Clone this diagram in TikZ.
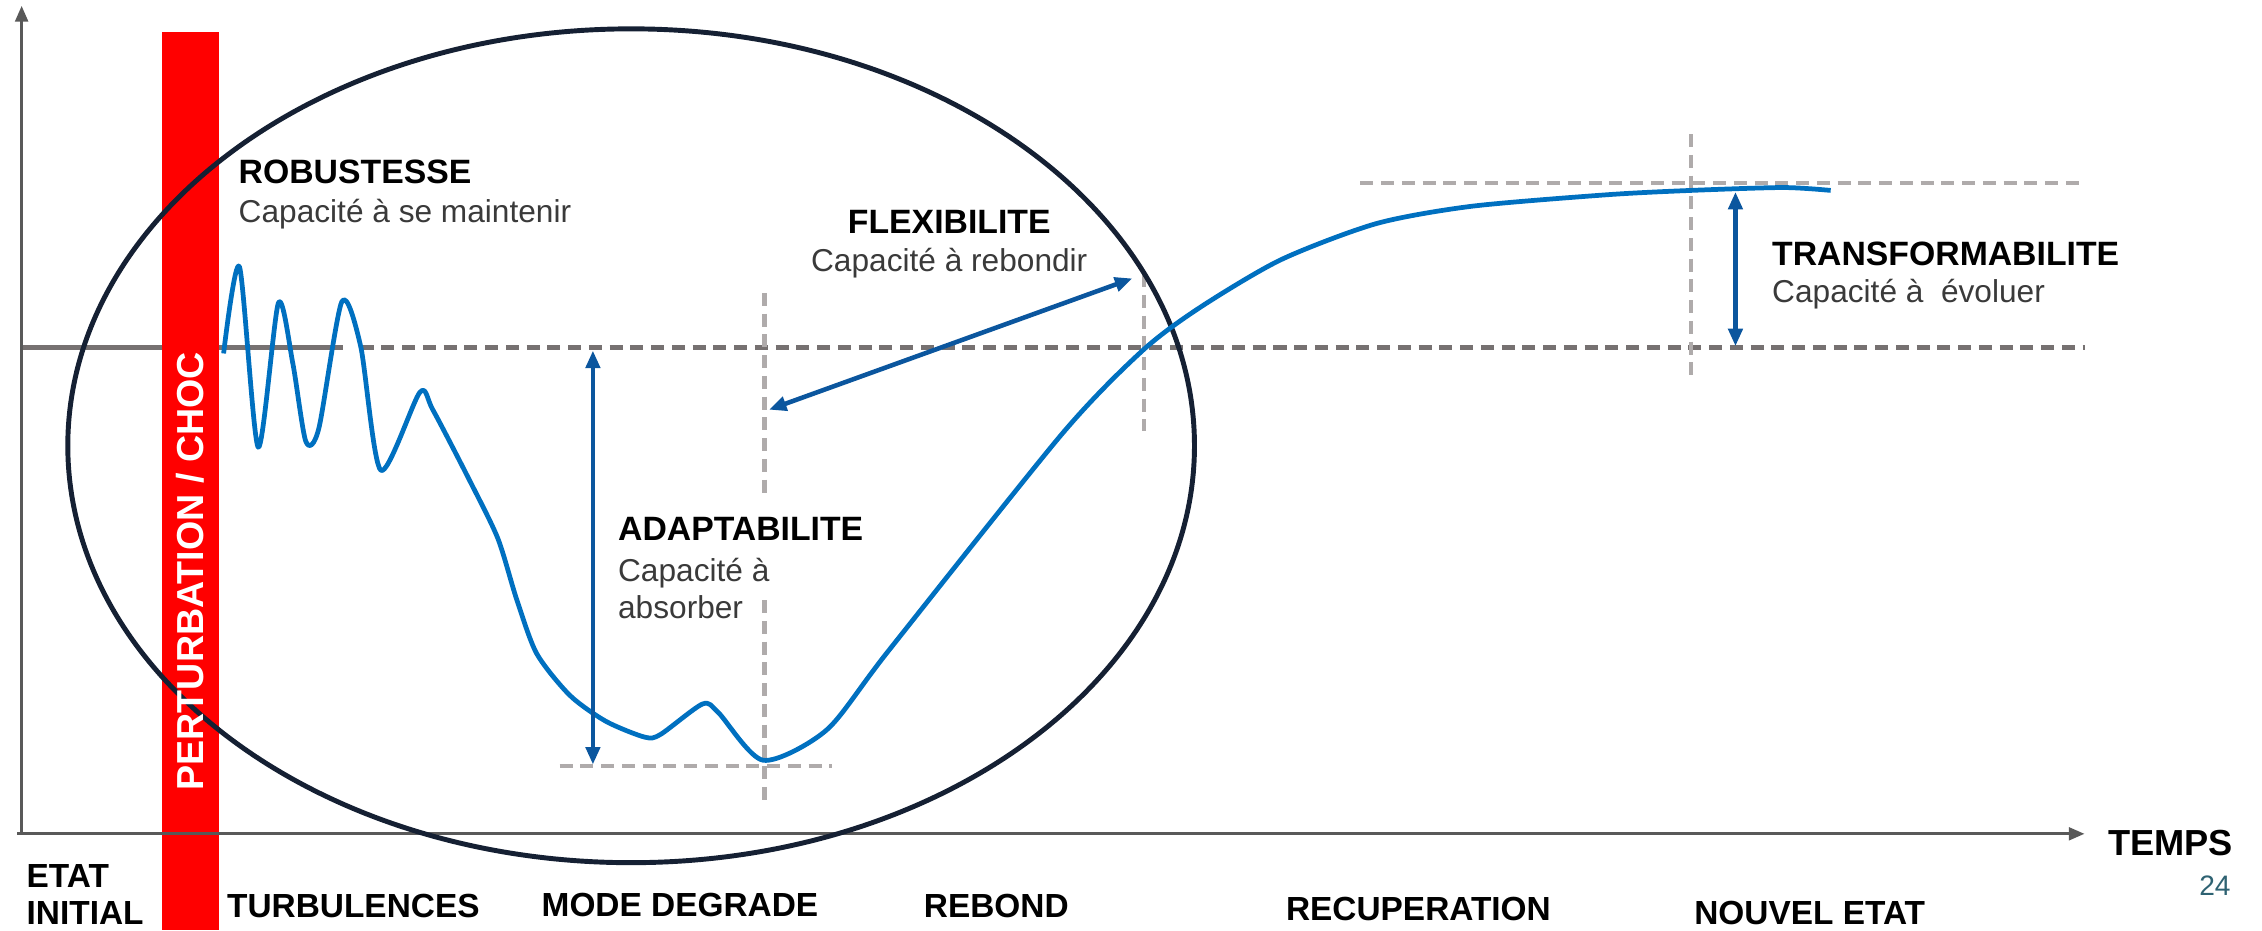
\documentclass[tikz,border=0pt]{standalone}
\usepackage{fontspec}
\setmainfont{Liberation Sans}
\usetikzlibrary{arrows.meta}

\definecolor{axisgray}{HTML}{595959}
\definecolor{refgray}{HTML}{767171}
\definecolor{guidegray}{HTML}{AFABAB}
\definecolor{curveblue}{HTML}{0070C0}
\definecolor{gapblue}{HTML}{0B569E}
\definecolor{ringnavy}{HTML}{152033}
\definecolor{subgray}{HTML}{3A3A3A}
\definecolor{pageteal}{HTML}{2E6272}

\tikzset{
  axisline/.style={axisgray, line width=0.9pt, -{Triangle[length=4.5pt,width=3.6pt]}},
  refdash/.style={refgray, line width=1.5pt, dash pattern=on 3.7pt off 2.2pt},
  guidedash/.style={guidegray, line width=1.2pt, dash pattern=on 3.7pt off 2.2pt},
  gaparrow/.style={gapblue, line width=1.3pt, {Triangle[length=5pt,width=4pt]}-{Triangle[length=5pt,width=4pt]}},
  capname/.style={font=\bfseries\fontsize{9.6}{11}\selectfont, inner sep=0pt},
  capsub/.style={font=\fontsize{9}{11}\selectfont, text=subgray, inner sep=0pt},
  phase/.style={font=\bfseries\fontsize{9.5}{11}\selectfont, inner sep=0pt, anchor=base west},
}

\begin{document}
\begin{tikzpicture}[x=0.014426cm, y=-0.014426cm]
  \useasboundingbox (0,0) rectangle (1568,645);

  % choc
  \fill[red] (112,22) rectangle (152,645);

  % niveau initial
  \draw[refgray, line width=1.5pt] (15,241) -- (112,241);
  \draw[refgray, line width=1.5pt] (152,241) -- (238,241);
  \draw[refdash] (250,241) -- (1445,241);

  % reperes
  \draw[guidedash] (943,127) -- (1443,127);
  \draw[guidedash] (388,531) -- (577,531);
  \draw[guidedash] (530,203) -- (530,345);
  \draw[guidedash] (530,416) -- (530,555);
  \draw[guidedash] (793,190) -- (793,299);
  \draw[guidedash] (1172,93) -- (1172,260);

  % axes
  \draw[axisline] (15,578) -- (15,4);
  \draw[axisline] (12,578) -- (1445,578);

  % zone de resilience
  \draw[ringnavy, line width=1.4pt] (437.5,309) ellipse [x radius=390.5, y radius=289];
  \node[rotate=90, text=white, font=\bfseries\fontsize{10.7}{12}\selectfont, inner sep=0pt] (choc) at (132,396) {PERTURBATION / CHOC};

  % trajectoire
  \draw[curveblue, line width=1.35pt, line join=round] plot[smooth, tension=0.45] coordinates {
    (155,245) (166,185) (179,310) (193,210) (203,252) (212,306) (221,297)
    (237,209) (250,240) (264,326) (291,272) (300,284) (325,332) (345,373)
    (358,415) (372,453) (395,482) (420,500) (447,511) (458,509) (487,488)
    (498,494) (529,527) (573,506) (616,451) (736,301) (792,243) (832,213)
    (888,180) (954,155) (1020,143) (1114,135) (1172,132) (1236,130) (1269,132)};

  % capacites
  \node[capname, anchor=base west] (robust) at (165,127) {ROBUSTESSE};
  \node[capsub, anchor=base west] (robustsub) at (165,154) {Capacité à se maintenir};

  \node[capname, anchor=base] (flex) at (658,162) {FLEXIBILITE};
  \node[capsub, anchor=base] (flexsub) at (658,188) {Capacité à rebondir};

  \node[capname, anchor=base west] (adapt) at (428,375) {ADAPTABILITE};
  \node[capsub, anchor=base west] (adaptsub) at (428,403) {Capacité à};
  \node[capsub, anchor=base west] (adaptsubb) at (428,429) {absorber};

  \node[capname, anchor=base west] (transf) at (1228,184) {TRANSFORMABILITE};
  \node[capsub, anchor=base west] (transfsub) at (1228,210) {Capacité à \ évoluer};

  \coordinate (adapttop) at (411,243);
  \coordinate (adaptlow) at (411,530);
  \coordinate (flexlow) at (533,284);
  \coordinate (flexhigh) at (785,193);
  \coordinate (transftop) at (1203,133);
  \coordinate (transflow) at (1203,240);
  \draw[gaparrow] (adapttop) -- (adaptlow);
  \draw[gaparrow] (flexlow) -- (flexhigh);
  \draw[gaparrow] (transftop) -- (transflow);

  % phases
  \node[phase] (etat) at (18,615) {ETAT};
  \node[phase] (initial) at (18,641) {INITIAL};
  \node[phase] (turb) at (157,636) {TURBULENCES};
  \node[phase] (degrade) at (375,635) {MODE DEGRADE};
  \node[phase] (rebond) at (640,636) {REBOND};
  \node[phase] (recup) at (891,638) {RECUPERATION};
  \node[phase] (nouvel) at (1174,641) {NOUVEL ETAT};
  \node[phase, font=\bfseries\fontsize{10.3}{12}\selectfont] (temps) at (1461,593) {TEMPS};
  \node[anchor=base west, inner sep=0pt, text=pageteal, font=\fontsize{8}{10}\selectfont] (page) at (1524,621) {24};
\end{tikzpicture}
\end{document}
